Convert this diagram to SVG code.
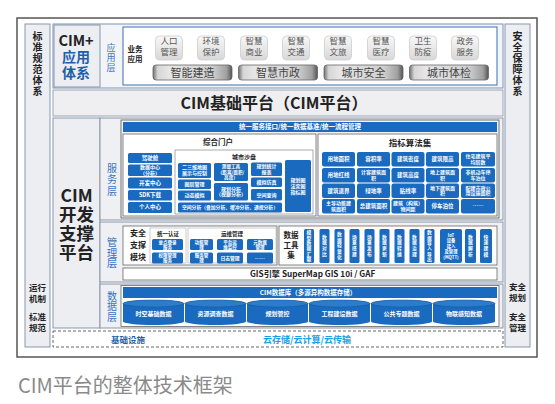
<svg xmlns="http://www.w3.org/2000/svg" width="555" height="404" viewBox="0 0 555 404">
<defs>
<linearGradient id="gs" x1="0" y1="0" x2="0" y2="1"><stop offset="0" stop-color="#f8f8f8"/><stop offset="1" stop-color="#d8d8d8"/></linearGradient>
<linearGradient id="gb" x1="0" y1="0" x2="1" y2="0"><stop offset="0" stop-color="#707070"/><stop offset="0.06" stop-color="#d6d6d6"/><stop offset="0.2" stop-color="#e6e6e6"/><stop offset="0.75" stop-color="#d0d0d0"/><stop offset="0.93" stop-color="#a0a0a0"/><stop offset="1" stop-color="#555"/></linearGradient>
</defs>
<style>
text{font-family:"Noto Sans CJK SC","Noto Sans",sans-serif}
.v{writing-mode:vertical-rl;text-orientation:upright}
.col{fill:#eceef2;stroke:#8797b0;stroke-width:1}
.ct{font-size:10px;font-weight:bold;fill:#222;text-anchor:middle;letter-spacing:1px}
.cs{font-size:8.5px;font-weight:bold;fill:#222;text-anchor:middle}
.lay{font-size:10px;fill:#3b73c2;text-anchor:middle}
.sb{fill:url(#gs);stroke:#cdcdcd;stroke-width:0.8}
.st{font-size:8.5px;fill:#555;text-anchor:middle}
.bb{fill:url(#gb);stroke:#666;stroke-width:0.8}
.btx{font-size:11px;fill:#444;text-anchor:middle}
.b{fill:#1a6bbf}
.w{fill:#fff;font-weight:bold;text-anchor:middle;font-size:5px}
.w5{fill:#fff;font-weight:bold;text-anchor:middle;font-size:5.5px}
.box{fill:#fff;stroke:#666;stroke-width:0.8}
.cont{fill:#eef0f4;stroke:#8a94a6;stroke-width:1}
.bk{fill:#222;font-weight:bold;text-anchor:middle}
</style>
<rect x="17" y="18" width="520" height="339" fill="#fff" stroke="#555" stroke-width="1.5"/>

<g id="std-col">
<rect class="col" x="25" y="24" width="25" height="323"/>
<text class="ct v" x="37.5" y="64">标准规范体系</text>
<text class="cs" x="37.5" y="291">运行</text><text class="cs" x="37.5" y="302">机制</text>
<text class="cs" x="37.5" y="320">标准</text><text class="cs" x="37.5" y="330.5">规范</text>
</g>
<g id="sec-col">
<rect class="col" x="505" y="24" width="25" height="323"/>
<text class="ct v" x="517.5" y="64">安全保障体系</text>
<text class="cs" x="517.5" y="290">安全</text><text class="cs" x="517.5" y="301">规划</text>
<text class="cs" x="517.5" y="320">安全</text><text class="cs" x="517.5" y="330.5">管理</text>
</g>

<g id="app-layer">
<rect x="53" y="24" width="450" height="64" fill="#f3f4f7" stroke="#7d93b8"/>
<rect class="col" x="54" y="25" width="46" height="62"/>
<text class="bk" x="76" y="45.5" font-size="14.5">CIM+</text>
<text class="bk" x="76" y="62" font-size="14" style="fill:#1f5fa8">应用</text>
<text class="bk" x="76" y="78" font-size="14" style="fill:#1f5fa8">体系</text>
<text class="lay v" x="111" y="58" style="font-size:9px;letter-spacing:1px">应用层</text>
<rect x="123" y="27" width="374" height="58" fill="#fff" stroke="#5d84c2" stroke-width="1.2"/>
<text class="bk" x="135" y="52" font-size="7.5">业务</text><text class="bk" x="135" y="62" font-size="7.5">应用</text>
<rect class="sb" x="155.5" y="36" width="27" height="24" rx="4"/><text class="st"><tspan x="169" y="44">人口</tspan><tspan x="169" y="55">管理</tspan></text>
<rect class="sb" x="197.5" y="36" width="27" height="24" rx="4"/><text class="st"><tspan x="211" y="44">环境</tspan><tspan x="211" y="55">保护</tspan></text>
<rect class="sb" x="240.5" y="36" width="27" height="24" rx="4"/><text class="st"><tspan x="254" y="44">智慧</tspan><tspan x="254" y="55">商业</tspan></text>
<rect class="sb" x="282.5" y="36" width="27" height="24" rx="4"/><text class="st"><tspan x="296" y="44">智慧</tspan><tspan x="296" y="55">交通</tspan></text>
<rect class="sb" x="324.5" y="36" width="27" height="24" rx="4"/><text class="st"><tspan x="338" y="44">智慧</tspan><tspan x="338" y="55">文旅</tspan></text>
<rect class="sb" x="367.5" y="36" width="27" height="24" rx="4"/><text class="st"><tspan x="381" y="44">智慧</tspan><tspan x="381" y="55">医疗</tspan></text>
<rect class="sb" x="409.5" y="36" width="27" height="24" rx="4"/><text class="st"><tspan x="423" y="44">卫生</tspan><tspan x="423" y="55">防疫</tspan></text>
<rect class="sb" x="451.5" y="36" width="27" height="24" rx="4"/><text class="st"><tspan x="465" y="44">政务</tspan><tspan x="465" y="55">服务</tspan></text>
<rect class="bb" x="153" y="65" width="79" height="15" rx="3"/><text class="btx" x="192.5" y="76.5">智能建造</text>
<rect class="bb" x="238.5" y="65" width="79" height="15" rx="3"/><text class="btx" x="278" y="76.5">智慧市政</text>
<rect class="bb" x="324" y="65" width="79" height="15" rx="3"/><text class="btx" x="363.5" y="76.5">城市安全</text>
<rect class="bb" x="409.5" y="65" width="79" height="15" rx="3"/><text class="btx" x="449" y="76.5">城市体检</text>
</g>

<g id="base-platform">
<rect x="53" y="90" width="450" height="26" fill="#efeff1" stroke="#9aa4b4"/>
<text class="bk" x="274" y="109" font-size="16">CIM基础平台（CIM平台）</text>
</g>

<g id="dev-platform">
<rect class="col" x="53" y="118" width="47" height="210"/>
<text class="bk" font-size="17.5"><tspan x="76.5" y="202">CIM</tspan><tspan x="76.5" y="221">开发</tspan><tspan x="76.5" y="240">支撑</tspan><tspan x="76.5" y="259">平台</tspan></text>
</g>

<g id="service-layer">
<rect class="cont" x="100" y="118" width="403" height="102"/>
<text class="lay v" x="112" y="180" style="letter-spacing:1.5px">服务层</text>
<rect x="121" y="120" width="378" height="98" fill="#f2f3f5" stroke="#555" stroke-width="0.8"/>
<rect class="b" x="123" y="122" width="374" height="10"/>
<text class="w" x="300" y="129.3" style="font-size:6.5px">统一服务接口/统一数据基准/统一流程管理</text>
</g>

<g id="portal">
<rect class="box" x="123" y="134" width="193" height="82"/>
<text class="bk" x="218" y="144.5" font-size="7.5">综合门户</text>
<rect class="b" x="128" y="153" width="44" height="10" rx="1.5"/><text class="w5" x="150" y="160">驾驶舱</text>
<rect class="b" x="128" y="164.5" width="44" height="11.5" rx="1.5"/><text class="w"><tspan x="150" y="169">数据中心</tspan><tspan x="150" y="174.6">（分析）</tspan></text>
<rect class="b" x="128" y="177.5" width="44" height="11" rx="1.5"/><text class="w5" x="150" y="184.9">开发中心</text>
<rect class="b" x="128" y="190" width="44" height="10.5" rx="1.5"/><text class="w5" x="150" y="197.2">SDK下载</text>
<rect class="b" x="128" y="202" width="44" height="11" rx="1.5"/><text class="w5" x="150" y="209.4">个人中心</text>
</g>

<g id="city-sandbox">
<rect x="175" y="150" width="138" height="64" fill="#fff" stroke="#888" stroke-width="0.7"/>
<text class="bk" x="244" y="158.5" font-size="6">城市沙盘</text>
<rect class="b" x="178" y="163" width="33" height="15" rx="1.5"/><text class="w"><tspan x="194.5" y="169.3">二三维地图</tspan><tspan x="194.5" y="175.1">展示与控制</tspan></text>
<rect class="b" x="178" y="179.5" width="33" height="9.5" rx="1.5"/><text class="w" x="194.5" y="186">图层管理</text>
<rect class="b" x="178" y="190.5" width="33" height="10" rx="1.5"/><text class="w" x="194.5" y="197.3">动态模拟</text>
<rect class="b" x="214" y="163" width="34" height="18" rx="1.5"/><text class="w" style="font-size:4.6px"><tspan x="231" y="168.2">测量工具</tspan><tspan x="231" y="173.7">（距离/面积/</tspan><tspan x="231" y="179.2">高度）</tspan></text>
<rect class="b" x="214" y="183" width="34" height="17.5" rx="1.5"/><text class="w"><tspan x="231" y="190.5">规划分析</tspan><tspan x="231" y="196.3">（视廊分析）</tspan></text>
<rect class="b" x="251" y="162.5" width="31" height="13.5" rx="1.5"/><text class="w"><tspan x="266.5" y="168.1">规划统计</tspan><tspan x="266.5" y="173.9">报表</tspan></text>
<rect class="b" x="251" y="177.5" width="31" height="9.5" rx="1.5"/><text class="w" x="266.5" y="184">模拟仿真</text>
<rect class="b" x="251" y="189" width="31" height="11.5" rx="1.5"/><text class="w" x="266.5" y="196.5">空间查询</text>
<rect class="b" x="285" y="160" width="26" height="52" rx="1.5"/><text class="w"><tspan x="298" y="182">规划图</tspan><tspan x="298" y="187.8">法定图</tspan><tspan x="298" y="193.6">指标图</tspan></text>
<rect class="b" x="178" y="202.5" width="104" height="10" rx="1.5"/><text class="w" x="230" y="209.3" style="font-size:4.8px">空间分析（叠加分析、缓冲分析、通视分析）</text>
</g>

<g id="indicators">
<rect class="box" x="318" y="134" width="179" height="82"/>
<text class="bk" x="410" y="146" font-size="8.5">指标算法集</text>
<rect class="b" x="322" y="152" width="33" height="14.5" rx="2"/><text class="w5" x="338.5" y="161.2">用地面积</text>
<rect class="b" x="357" y="152" width="33" height="14.5" rx="2"/><text class="w5" x="373.5" y="161.2">容积率</text>
<rect class="b" x="391.5" y="152" width="33" height="14.5" rx="2"/><text class="w5" x="408" y="161.2">建筑密度</text>
<rect class="b" x="426" y="152" width="33" height="14.5" rx="2"/><text class="w5" x="442.5" y="161.2">建筑限高</text>
<rect class="b" x="461" y="152" width="34" height="14.5" rx="2"/><text class="w"><tspan x="478" y="158.1">住宅建筑平</tspan><tspan x="478" y="163.9">均层数</tspan></text>

<rect class="b" x="322" y="168" width="33" height="14.5" rx="2"/><text class="w5" x="338.5" y="177.2">用地红线</text>
<rect class="b" x="357" y="168" width="33" height="14.5" rx="2"/><text class="w"><tspan x="373.5" y="174.1">计容建筑面</tspan><tspan x="373.5" y="179.9">积</tspan></text>
<rect class="b" x="391.5" y="168" width="33" height="14.5" rx="2"/><text class="w5" x="408" y="177.2">建筑高度</text>
<rect class="b" x="426" y="168" width="33" height="14.5" rx="2"/><text class="w"><tspan x="442.5" y="174.1">地上建筑面</tspan><tspan x="442.5" y="179.9">积</tspan></text>
<rect class="b" x="461" y="168" width="34" height="14.5" rx="2"/><text class="w"><tspan x="478" y="174.1">非机动车停</tspan><tspan x="478" y="179.9">车泊位</tspan></text>

<rect class="b" x="322" y="183.5" width="33" height="14.5" rx="2"/><text class="w5" x="338.5" y="192.7">建筑退界</text>
<rect class="b" x="357" y="183.5" width="33" height="14.5" rx="2"/><text class="w5" x="373.5" y="192.7">绿地率</text>
<rect class="b" x="391.5" y="183.5" width="33" height="14.5" rx="2"/><text class="w5" x="408" y="192.7">贴线率</text>
<rect class="b" x="426" y="183.5" width="33" height="14.5" rx="2"/><text class="w"><tspan x="442.5" y="189.6">地下建筑面</tspan><tspan x="442.5" y="195.4">积</tspan></text>
<rect class="b" x="461" y="183.5" width="34" height="14.5" rx="2"/><text class="w"><tspan x="478" y="189.6">配建市政公</tspan><tspan x="478" y="195.4">用设施面积</tspan></text>

<rect class="b" x="322" y="199" width="33" height="14.5" rx="2"/><text class="w"><tspan x="338.5" y="205.1">主导功能建</tspan><tspan x="338.5" y="210.9">筑面积</tspan></text>
<rect class="b" x="357" y="199" width="33" height="14.5" rx="2"/><text class="w5" x="373.5" y="208.2">总建筑面积</text>
<rect class="b" x="391.5" y="199" width="33" height="14.5" rx="2"/><text class="w"><tspan x="408" y="205.1">建筑（构筑）</tspan><tspan x="408" y="210.9">物间距</tspan></text>
<rect class="b" x="426" y="199" width="33" height="14.5" rx="2"/><text class="w5" x="442.5" y="208.2">停车泊位</text>
<rect class="b" x="461" y="199" width="34" height="14.5" rx="2"/><text class="w5" x="478" y="207.5">……</text>
</g>

<g id="management-layer">
<rect class="cont" x="100" y="222" width="403" height="60"/>
<text class="lay v" x="112" y="253" style="font-size:10.5px">管理层</text>
</g>

<g id="security-module">
<rect class="box" x="123" y="226" width="154" height="39"/>
<text class="bk" x="138" y="236" font-size="8">安全</text>
<text class="bk" x="138" y="248" font-size="8">支撑</text>
<text class="bk" x="138" y="260" font-size="8">模块</text>
<rect x="150" y="228" width="36" height="35" fill="#fff" stroke="#aaa" stroke-width="0.6"/>
<text class="bk" x="168" y="236" font-size="5.5">统一认证</text>
<rect class="b" x="152" y="239" width="31" height="11" rx="1.5"/><text class="w" style="font-size:4.5px"><tspan x="167.5" y="243.6">单点登录</tspan><tspan x="167.5" y="248.8">服务</tspan></text>
<rect class="b" x="152" y="252.5" width="31" height="11" rx="1.5"/><text class="w" style="font-size:4.5px"><tspan x="167.5" y="257.1">权限管理</tspan><tspan x="167.5" y="262.3">服务</tspan></text>
<rect x="188" y="228" width="88" height="35" fill="#fff" stroke="#aaa" stroke-width="0.6"/>
<text class="bk" x="232" y="236" font-size="5.5">运维管理</text>
<rect class="b" x="190" y="239" width="23" height="11" rx="1.5"/><text class="w" style="font-size:4.5px"><tspan x="201.5" y="243.6">功能管</tspan><tspan x="201.5" y="248.8">理</tspan></text>
<rect class="b" x="217" y="239" width="26" height="11" rx="1.5"/><text class="w" style="font-size:4.5px"><tspan x="230" y="243.6">平台运</tspan><tspan x="230" y="248.8">维监控</tspan></text>
<rect class="b" x="247" y="239" width="26" height="11" rx="1.5"/><text class="w" style="font-size:4.5px"><tspan x="260" y="243.6">元数据</tspan><tspan x="260" y="248.8">管理</tspan></text>
<rect class="b" x="190" y="252.5" width="23" height="11" rx="1.5"/><text class="w" style="font-size:4.5px"><tspan x="201.5" y="257.1">服务管</tspan><tspan x="201.5" y="262.3">理</tspan></text>
<rect class="b" x="217" y="252.5" width="26" height="11" rx="1.5"/><text class="w" x="230" y="259.8" style="font-size:4.8px">日志管理</text>
<rect class="b" x="247" y="252.5" width="26" height="11" rx="1.5"/><text class="w" x="260" y="259.5">……</text>
</g>

<g id="data-tools">
<rect class="box" x="279" y="226" width="218" height="39"/>
<text class="bk" x="291" y="237.8" font-size="7.5">数据</text>
<text class="bk" x="291" y="247.8" font-size="7.5">工具</text>
<text class="bk" x="291" y="257.8" font-size="7.5">集</text>
<g class="w" style="font-size:4.8px">
<rect class="b" x="304" y="229" width="10" height="34" rx="1.5"/><text class="v" x="309" y="246" style="letter-spacing:0.5px">模型数据汇聚</text>
<rect class="b" x="319.5" y="229" width="10" height="34" rx="1.5"/><text class="v" x="324.5" y="246" style="letter-spacing:1px">数据对比</text>
<rect class="b" x="334.5" y="229" width="10" height="34" rx="1.5"/><text class="v" x="339.5" y="246" style="letter-spacing:0.8px">数据轻量化</text>
<rect class="b" x="349.5" y="229" width="10" height="34" rx="1.5"/><text class="v" x="354.5" y="246" style="letter-spacing:1px">场景搭建</text>
<rect class="b" x="364.5" y="229" width="10" height="34" rx="1.5"/><text class="v" x="369.5" y="246" style="letter-spacing:1px">场景发布</text>
<rect class="b" x="379.5" y="229" width="10" height="34" rx="1.5"/><text class="v" x="384.5" y="246" style="letter-spacing:1px">数据更新</text>
<rect class="b" x="394.5" y="229" width="10" height="34" rx="1.5"/><text class="v" x="399.5" y="246" style="letter-spacing:1px">数据转换</text>
<rect class="b" x="409.5" y="229" width="10" height="34" rx="1.5"/><text class="v" x="414.5" y="246" style="letter-spacing:1px">数据治理</text>
<rect class="b" x="424.5" y="229" width="10" height="34" rx="1.5"/><text class="v" x="429.5" y="246" style="letter-spacing:0.5px">数据导入导出</text>
<rect class="b" x="440" y="229" width="22" height="34" rx="2"/><text style="font-size:4.3px"><tspan x="451" y="236.5">IoT</tspan><tspan x="451" y="242">设备</tspan><tspan x="451" y="247.5">接入</tspan><tspan x="451" y="253">及管理</tspan><tspan x="451" y="258.5">(MQTT)</tspan></text>
<rect class="b" x="465" y="229" width="11" height="34" rx="1.5"/><text class="v" x="470.5" y="246" style="letter-spacing:1px">数据解析</text>
<rect class="b" x="480" y="229" width="12" height="34" rx="1.5"/><text class="v" x="486" y="246" style="letter-spacing:1px">快速建模</text>
</g>
</g>

<g id="gis-engine">
<rect class="box" x="123" y="268" width="374" height="12"/>
<text x="250" y="277" font-size="8.2" font-weight="bold" fill="#222">GIS引擎  SuperMap GIS 10i / GAF</text>
</g>

<g id="data-layer">
<rect class="cont" x="100" y="284" width="403" height="44"/>
<text class="lay v" x="112" y="306.5" style="letter-spacing:0.5px">数据层</text>
<rect x="121" y="285.5" width="378" height="41" fill="#fff" stroke="#666" stroke-width="0.8"/>
<rect class="b" x="123" y="287" width="374" height="11"/>
<text class="w" x="308" y="294.8" style="font-size:6.5px">CIM数据库（多源异构数据存储）</text>
<g id="cylinders">
<path class="b" d="M123,303.5 a30.5,3.5 0 0 1 61,0 v18 a30.5,3.5 0 0 1 -61,0 z"/><ellipse cx="153.5" cy="303.5" rx="30.5" ry="3.5" fill="#2c7ccc" stroke="#0f5297" stroke-width="0.5"/><text class="w" x="153.5" y="316" style="font-size:6px">时空基础数据</text>
<path class="b" d="M185,303.5 a30.5,3.5 0 0 1 61,0 v18 a30.5,3.5 0 0 1 -61,0 z"/><ellipse cx="215.5" cy="303.5" rx="30.5" ry="3.5" fill="#2c7ccc" stroke="#0f5297" stroke-width="0.5"/><text class="w" x="215.5" y="316" style="font-size:6px">资源调查数据</text>
<path class="b" d="M247,303.5 a30.5,3.5 0 0 1 61,0 v18 a30.5,3.5 0 0 1 -61,0 z"/><ellipse cx="277.5" cy="303.5" rx="30.5" ry="3.5" fill="#2c7ccc" stroke="#0f5297" stroke-width="0.5"/><text class="w" x="277.5" y="316" style="font-size:6px">规划管控</text>
<path class="b" d="M309,303.5 a30.5,3.5 0 0 1 61,0 v18 a30.5,3.5 0 0 1 -61,0 z"/><ellipse cx="339.5" cy="303.5" rx="30.5" ry="3.5" fill="#2c7ccc" stroke="#0f5297" stroke-width="0.5"/><text class="w" x="339.5" y="316" style="font-size:6px">工程建设数据</text>
<path class="b" d="M371,303.5 a30.5,3.5 0 0 1 61,0 v18 a30.5,3.5 0 0 1 -61,0 z"/><ellipse cx="401.5" cy="303.5" rx="30.5" ry="3.5" fill="#2c7ccc" stroke="#0f5297" stroke-width="0.5"/><text class="w" x="401.5" y="316" style="font-size:6px">公共专题数据</text>
<path class="b" d="M433,303.5 a31,3.5 0 0 1 62,0 v18 a31,3.5 0 0 1 -62,0 z"/><ellipse cx="464" cy="303.5" rx="31" ry="3.5" fill="#2c7ccc" stroke="#0f5297" stroke-width="0.5"/><text class="w" x="464" y="316" style="font-size:6px">物联感知数据</text>
</g>
</g>

<g id="infrastructure">
<rect x="53" y="331" width="450" height="16" fill="none" stroke="#555" stroke-width="0.9" stroke-dasharray="3,2"/>
<text x="128" y="342.5" font-size="8.5" font-weight="bold" fill="#1f5fa8" text-anchor="middle">基础设施</text>
<text x="307" y="342.5" font-size="9" font-weight="bold" fill="#1aa0e6" text-anchor="middle">云存储/云计算/云传输</text>
</g>

<g id="connectors"/>

<text x="18" y="393" font-size="20" fill="#8a8a8a">CIM平台的整体技术框架</text>
</svg>
